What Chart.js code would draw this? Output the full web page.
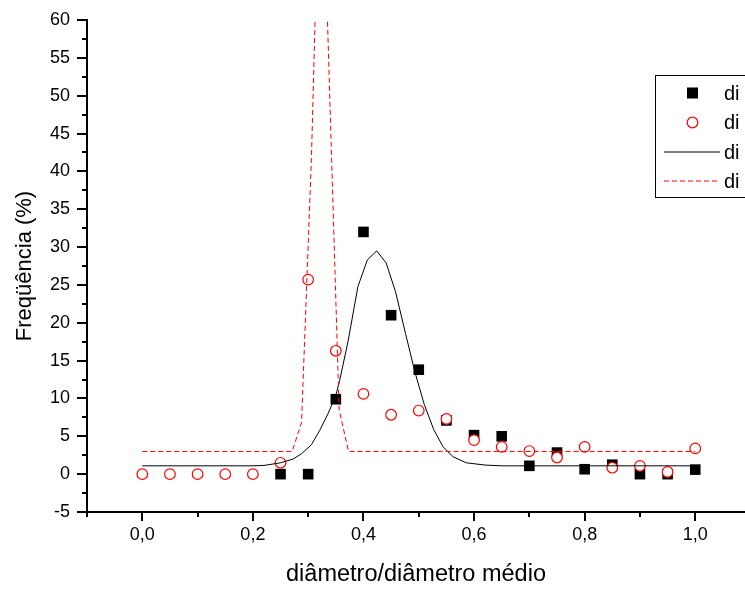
<!DOCTYPE html>
<html>
<head>
<meta charset="utf-8">
<script src="https://cdn.jsdelivr.net/npm/chart.js@4.4.1/dist/chart.umd.min.js"></script>
<style>
html,body{margin:0;padding:0;background:#ffffff;overflow:hidden}
canvas{display:block}
</style>
</head>
<body>
<canvas id="c" width="745" height="590"></canvas>
<script>
// ---- data ----
const ratioX = [0,0.05,0.1,0.15,0.2,0.25,0.3,0.35,0.4,0.45,0.5,0.55,0.6,0.65,0.7,0.75,0.8,0.85,0.9,0.95,1.0];
const freqSquares = [null,null,null,null,null,0,0,9.9,32,21,13.8,7.1,5.15,5.0,1.1,2.85,0.65,1.25,0,0,0.6];
const freqCircles = [0,0,0,0,0,1.5,25.7,16.3,10.6,7.85,8.4,7.3,4.5,3.6,3.05,2.2,3.6,0.85,1.1,0.3,3.4];

const fitSolidX = [0,0.2,0.22,0.25,0.273,0.288,0.306,0.321,0.336,0.35,0.357,0.372,0.39,0.407,0.424,0.441,0.458,0.476,0.493,0.51,0.527,0.544,0.562,0.586,0.62,0.65,1.0];
const fitSolidY = [1.1,1.1,1.15,1.5,2.0,2.7,3.9,5.8,8.0,10.4,12.4,17.5,24.8,28.3,29.5,27.9,24.1,18.6,13.5,9.2,5.9,3.6,2.3,1.5,1.2,1.1,1.1];

const fitDashX = [0,0.271,0.288,0.306,0.323,0.356,0.373,1.0];
const fitDashY = [3,3,6.8,42,89,8.5,3,3];

const xTickValues = [-0.1,0,0.1,0.2,0.3,0.4,0.5,0.6,0.7,0.8,0.9,1.0];
const xMajorTicks = [0,0.2,0.4,0.6,0.8,1.0];
const yTickValues = [-5,0,5,10,15,20,25,30,35,40,45,50,55,60];

const seriesLabels = ['di','di','di','di'];
const xTitle = 'diâmetro/diâmetro médio';
const yTitle = 'Freqüência (%)';

Chart.defaults.font.family = "'Liberation Sans', Arial, sans-serif";
Chart.defaults.color = '#000';

const pts = (xs, ys) => xs.map((x, i) => ({x: x, y: ys[i]})).filter(p => p.y !== null);

// ticks (major/minor) drawn through the scales
const tickPlugin = {
  id: 'ticks',
  afterDraw(chart) {
    const ctx = chart.ctx, xs = chart.scales.x, ys = chart.scales.y;
    ctx.save();
    ctx.strokeStyle = '#000';
    ctx.lineWidth = 2;
    ctx.beginPath();
    for (let i = -1; i <= 10; i++) {
      const v = i / 10;
      const px = Math.round(xs.getPixelForValue(v));
      const len = (i >= 0 && i % 2 === 0) ? 9 : 5;
      ctx.moveTo(px, xs.top); ctx.lineTo(px, xs.top + len);
    }
    for (let v = -5; v <= 60; v += 2.5) {
      const py = Math.round(ys.getPixelForValue(v));
      const len = (v % 5 === 0) ? 10 : 5;
      ctx.moveTo(ys.right, py); ctx.lineTo(ys.right - len, py);
    }
    ctx.stroke();
    ctx.restore();
  }
};

// legend box (clipped at the right edge, as in the reference)
const legendPlugin = {
  id: 'boxLegend',
  afterDraw(chart) {
    const ctx = chart.ctx;
    ctx.save();
    ctx.strokeStyle = '#000';
    ctx.lineWidth = 1;
    ctx.strokeRect(655.5, 75.5, 120, 122);
    const rows = [93, 122.5, 152, 181];
    const order = [3, 2, 1, 0];
    ctx.font = "20px 'Liberation Sans', Arial, sans-serif";
    ctx.textBaseline = 'middle';
    ctx.textAlign = 'left';
    order.forEach((di, r) => {
      const ds = chart.data.datasets[di];
      const y = rows[r];
      if (ds.showLine) {
        ctx.beginPath();
        ctx.strokeStyle = ds.borderColor;
        ctx.lineWidth = ds.borderWidth;
        ctx.setLineDash(ds.borderDash || []);
        ctx.moveTo(664, y); ctx.lineTo(720, y);
        ctx.stroke();
        ctx.setLineDash([]);
      } else if (ds.pointStyle === 'rect') {
        ctx.fillStyle = ds.backgroundColor;
        ctx.fillRect(687, y - 5.5, 11, 11);
      } else {
        ctx.beginPath();
        ctx.fillStyle = ds.backgroundColor;
        ctx.strokeStyle = ds.borderColor;
        ctx.lineWidth = ds.borderWidth;
        ctx.arc(692.5, y, ds.pointRadius, 0, Math.PI * 2);
        ctx.fill(); ctx.stroke();
      }
      ctx.fillStyle = '#000';
      ctx.fillText(ds.label, 724, y + 1);
    });
    ctx.restore();
  }
};

new Chart(document.getElementById('c'), {
  type: 'scatter',
  data: {
    datasets: [
      {label: seriesLabels[3], data: pts(fitDashX, fitDashY), showLine: true, pointRadius: 0,
       borderColor: '#ff0000', borderWidth: 1, borderDash: [5, 3], order: 0},
      {label: seriesLabels[2], data: pts(fitSolidX, fitSolidY), showLine: true, pointRadius: 0,
       borderColor: '#000000', borderWidth: 1, order: 1},
      {label: seriesLabels[1], data: pts(ratioX, freqCircles), showLine: false, pointStyle: 'circle',
       pointRadius: 5.3, borderColor: '#ff0000', backgroundColor: '#ffffff', borderWidth: 1.2, order: 2},
      {label: seriesLabels[0], data: pts(ratioX, freqSquares), showLine: false, pointStyle: 'rect',
       pointRadius: 7.5, borderColor: '#000000', backgroundColor: '#000000', borderWidth: 0, order: 3}
    ]
  },
  options: {
    responsive: false,
    animation: false,
    events: [],
    layout: {autoPadding: false, padding: {top: 20, right: 0, left: 0, bottom: 0}},
    plugins: {legend: {display: false}, tooltip: {enabled: false}},
    scales: {
      x: {
        type: 'linear', min: -0.1, max: 1.09,
        afterBuildTicks: s => { s.ticks = xTickValues.map(v => ({value: v})); },
        afterFit: s => { s.height = 78; s.paddingLeft = 0; s.paddingRight = 0; },
        grid: {display: false, drawTicks: false},
        border: {display: true, color: '#000', width: 2},
        ticks: {
          padding: 12, maxRotation: 0, autoSkip: false, font: {size: 18}, color: '#000',
          callback: v => xMajorTicks.some(m => Math.abs(m - v) < 1e-9) ? v.toFixed(1).replace('.', ',') : ''
        },
        title: {display: true, text: xTitle, font: {size: 23.5}, color: '#000', padding: {top: 0, bottom: 1}}
      },
      y: {
        type: 'linear', min: -5, max: 60,
        afterBuildTicks: s => { s.ticks = yTickValues.map(v => ({value: v})); },
        afterFit: s => { s.width = 87; s.paddingTop = 0; s.paddingBottom = 0; },
        grid: {display: false, drawTicks: false},
        border: {display: true, color: '#000', width: 2},
        ticks: {padding: 17, autoSkip: false, font: {size: 18}, color: '#000', callback: v => String(v)},
        title: {display: true, text: yTitle, font: {size: 22}, color: '#000', padding: {top: 12, bottom: 0}}
      }
    }
  },
  plugins: [tickPlugin, legendPlugin]
});
</script>
</body>
</html>
